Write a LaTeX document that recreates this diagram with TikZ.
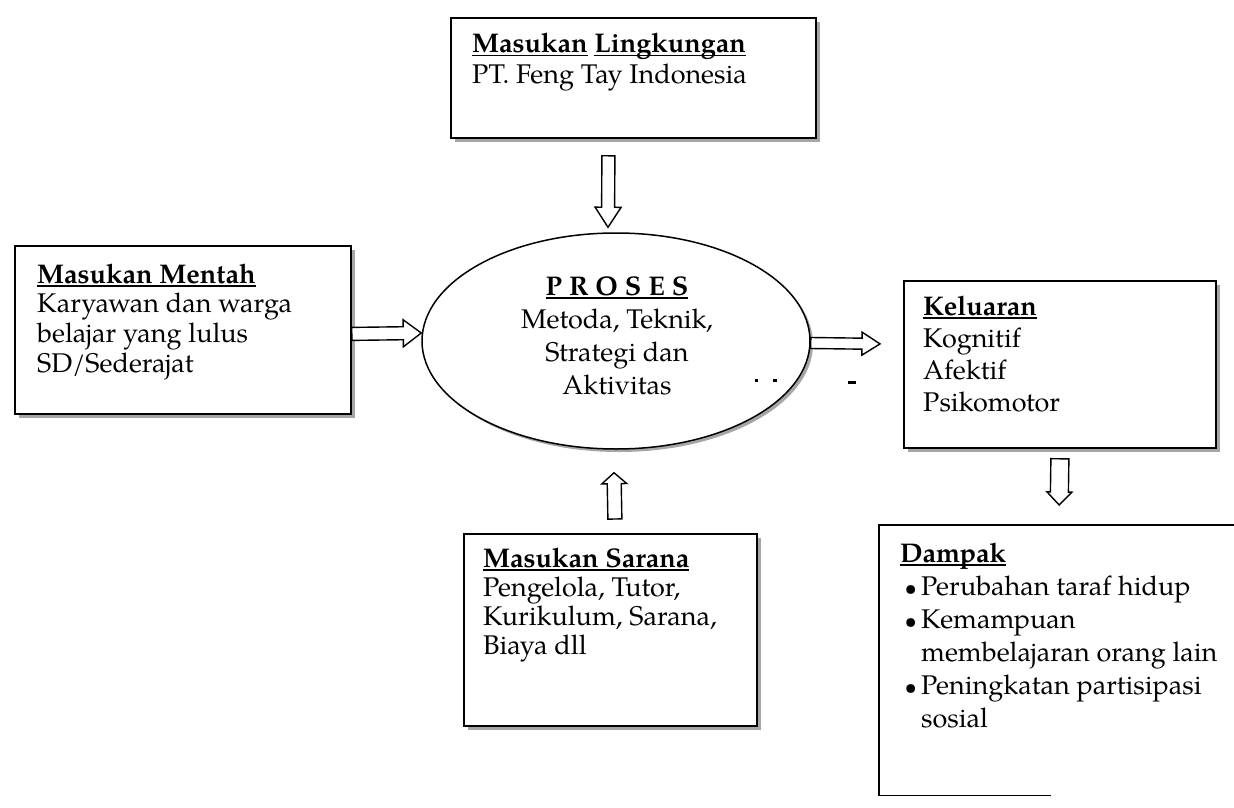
\documentclass[tikz,border=0pt]{standalone}
\usepackage{fontspec}
\setmainfont{texgyrepagella}[Extension=.otf, UprightFont=*-regular, BoldFont=*-bold, ItalicFont=*-italic, BoldItalicFont=*-bolditalic]
\usetikzlibrary{shapes.geometric,shadows,calc}
\newsavebox\ulbox
\newcommand\myul[1]{\leavevmode\sbox\ulbox{#1}\rlap{\rule[-3.5pt]{\wd\ulbox}{1.3pt}}\usebox\ulbox}
\newcommand\bul{\makebox[21pt][c]{\fontsize{22}{22}\selectfont\textbullet}}
\newcommand\hollowarrow[5]{%
  \coordinate (hb) at ($(#2)!#5!(#1)$);
  \draw[blockarr] ($(#1)!#3!90:(#2)$) -- ($(hb)!#3!-90:(#1)$) -- ($(hb)!#4!-90:(#1)$) -- (#2)
    -- ($(hb)!#4!90:(#1)$) -- ($(hb)!#3!90:(#1)$) -- ($(#1)!#3!-90:(#2)$) -- cycle;}
\begin{document}
\begin{tikzpicture}[x=1pt,y=-1pt,
  boxnode/.style={rectangle, draw, line width=1.8pt, fill=white, inner sep=0pt, anchor=north west,
    drop shadow={shadow xshift=4pt, shadow yshift=-4pt, fill=black!35, opacity=1}},
  txt/.style={inner sep=0pt, anchor=base west},
  blockarr/.style={draw, line width=1.4pt, fill=white, line join=miter},
  speck/.style={fill=black}]
\path[use as bounding box] (0,0) rectangle (1234,808);
\fill[white] (0,0) rectangle (1234,808);
\clip (0,0) rectangle (1234,808);

% boxes
\node[boxnode, minimum width=365pt, minimum height=120pt] (lingk) at (450,17) {};
\node[boxnode, minimum width=336pt, minimum height=168pt] (mentah) at (14,245) {};
\node[ellipse, draw, line width=1.5pt, fill=white, minimum width=388pt, minimum height=216pt, inner sep=0pt,
  drop shadow={shadow xshift=3pt, shadow yshift=-3pt, fill=black!35, opacity=1}] (proses) at (616,341) {};
\node[boxnode, minimum width=312pt, minimum height=167pt] (keluaran) at (903,280) {};
\node[boxnode, minimum width=293pt, minimum height=192pt] (sarana) at (463,533) {};
\node[rectangle, inner sep=0pt, anchor=north west, minimum width=400pt, minimum height=270pt] (dampak) at (879,525) {};
\draw[line width=1.8pt] (dampak.north east) -- (dampak.north west) -- (dampak.south west) -- ($(dampak.south west)+(172,0)$);

% texts
\node[txt, font=\fontsize{27}{30}\selectfont] (lingkT) at ($(lingk.north west)+(22,36)$)
  {\parbox[t]{340pt}{\raggedright\myul{\textbf{Masukan}} \myul{\textbf{Lingkungan}}\\PT. Feng Tay Indonesia}};
\node[txt, font=\fontsize{27}{29.7}\selectfont] (mentahT) at ($(mentah.north west)+(23,38)$)
  {\parbox[t]{320pt}{\raggedright\myul{\textbf{Masukan Mentah}}\\Karyawan dan warga\\belajar yang lulus\\SD/Sederajat}};
\node[txt, font=\fontsize{27}{32.3}\selectfont] (keluaranT) at ($(keluaran.north west)+(20,35)$)
  {\parbox[t]{290pt}{\raggedright\myul{\textbf{Keluaran}}\\Kognitif\\Afektif\\Psikomotor}};
\node[txt, font=\fontsize{27}{29.3}\selectfont] (saranaT) at ($(sarana.north west)+(20,34)$)
  {\parbox[t]{270pt}{\raggedright\myul{\textbf{Masukan Sarana}}\\Pengelola, Tutor,\\Kurikulum, Sarana,\\Biaya dll}};
\node[txt, font=\fontsize{27}{33}\selectfont] (dampakT) at ($(dampak.north west)+(21,37)$)
  {\parbox[t]{340pt}{\raggedright\myul{\textbf{Dampak}}\\\bul Perubahan taraf hidup\\\bul Kemampuan\\\hspace*{21pt}membelajaran orang lain\\\bul Peningkatan partisipasi\\\hspace*{21pt}sosial}};
\node[inner sep=0pt, anchor=base, font=\fontsize{27}{33.3}\selectfont] (prosesT) at ($(proses.center)+(1,-46)$)
  {\parbox[t]{320pt}{\centering\myul{\textbf{P\hspace{7pt}R\hspace{7pt}O\hspace{7pt}S\hspace{7pt}E\hspace{7pt}S}}\\Metoda, Teknik,\\Strategi dan\\Aktivitas}};

% arrow end points
\coordinate (a1s) at ($(lingk.south)+(-25,17)$);
\coordinate (a1e) at ($(proses.north)+(-8,-5)$);
\coordinate (a2s) at ($(mentah.east)+(0,4)$);
\coordinate (a2e) at ($(proses.west)+(0,-8)$);
\coordinate (a3s) at ($(proses.east)+(0,2)$);
\coordinate (a3e) at ($(keluaran.west)+(-23,-20.5)$);
\coordinate (a4s) at ($(sarana.north)+(4.5,-14)$);
\coordinate (a4e) at ($(proses.south)+(-2,23)$);
\coordinate (a5s) at ($(keluaran.south)+(0,10)$);
\coordinate (a5e) at ($(dampak.north)+(-20,-20)$);

\hollowarrow{a1s}{a1e}{6.5pt}{13pt}{20pt}
\hollowarrow{a2s}{a2e}{6.5pt}{13.5pt}{18pt}
\hollowarrow{a3s}{a3e}{5.5pt}{11.5pt}{18pt}
\hollowarrow{a4s}{a4e}{7pt}{12.5pt}{11pt}
\hollowarrow{a5s}{a5e}{9pt}{12.5pt}{13pt}

% small marks beside the ellipse
\fill[speck] (755,379) rectangle (758,382);
\fill[speck] (773,379) rectangle (777,382);
\fill[speck] (848,381) rectangle (856,384);
\end{tikzpicture}
\end{document}
